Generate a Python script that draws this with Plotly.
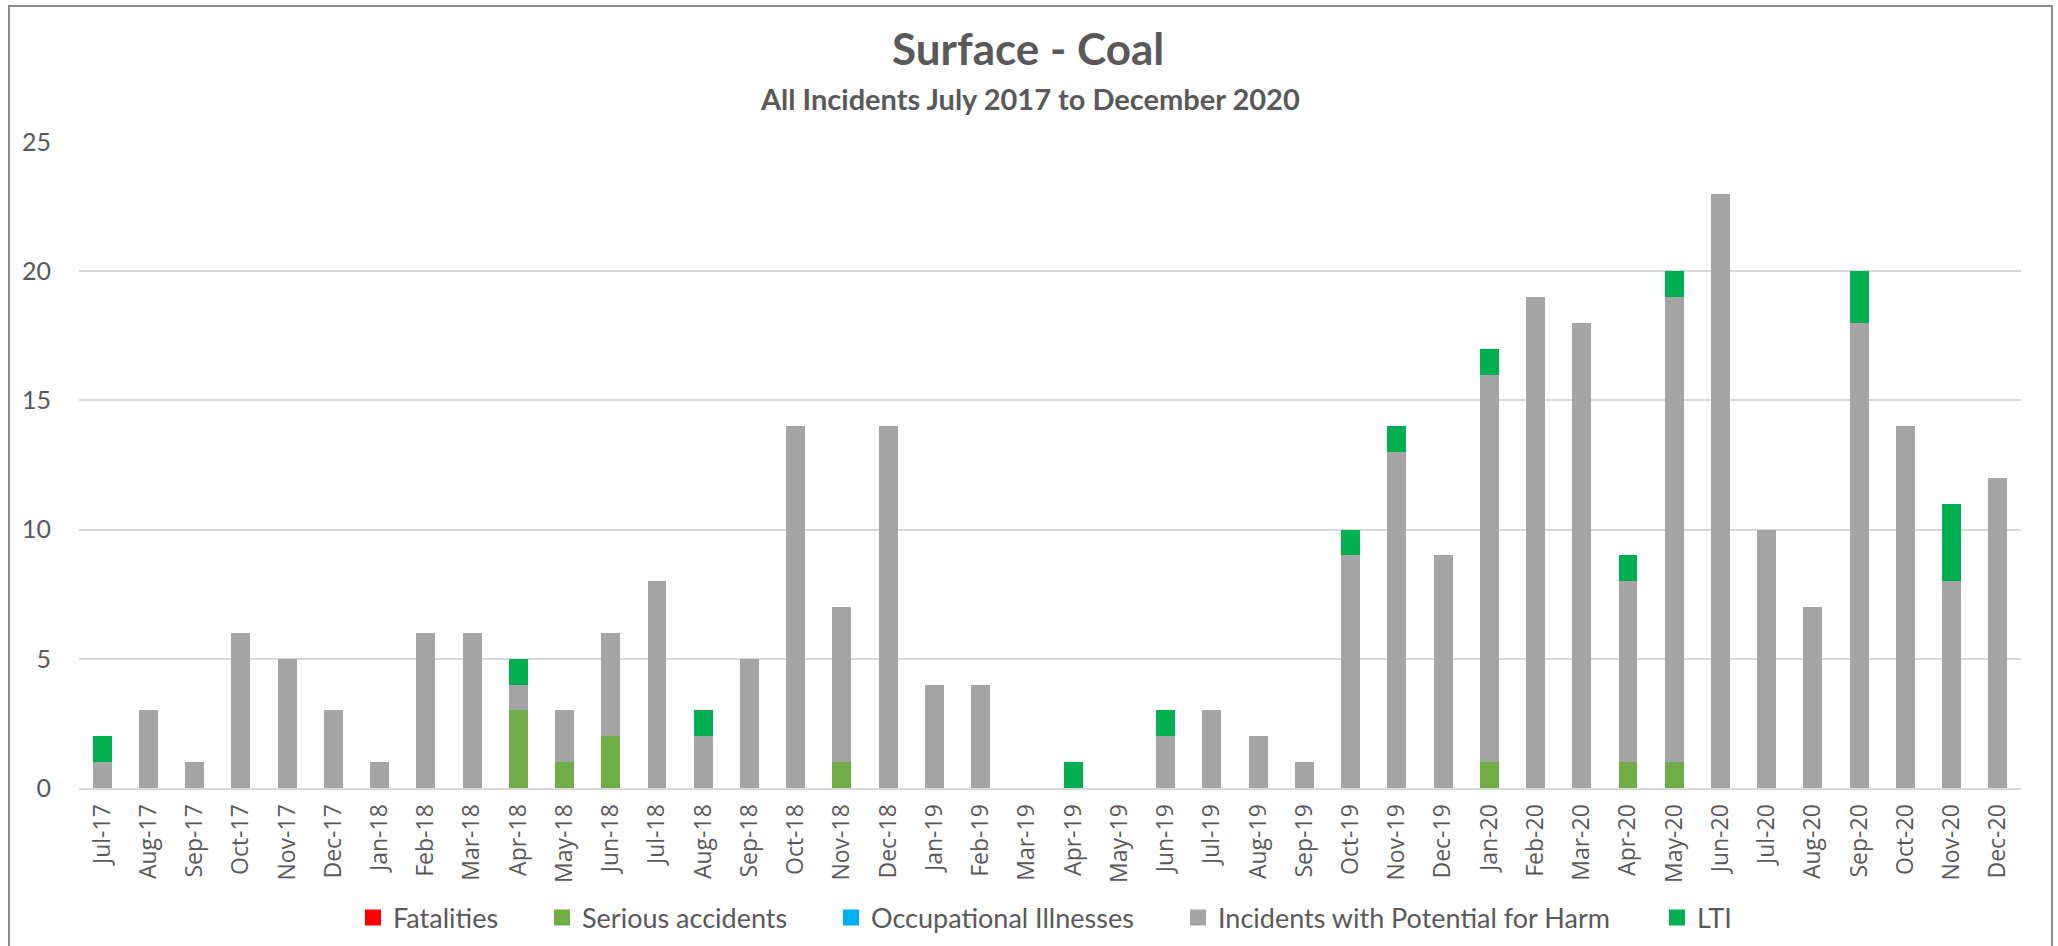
import plotly.graph_objects as go

months = ["Jul-17", "Aug-17", "Sep-17", "Oct-17", "Nov-17", "Dec-17",
          "Jan-18", "Feb-18", "Mar-18", "Apr-18", "May-18", "Jun-18",
          "Jul-18", "Aug-18", "Sep-18", "Oct-18", "Nov-18", "Dec-18",
          "Jan-19", "Feb-19", "Mar-19", "Apr-19", "May-19", "Jun-19",
          "Jul-19", "Aug-19", "Sep-19", "Oct-19", "Nov-19", "Dec-19",
          "Jan-20", "Feb-20", "Mar-20", "Apr-20", "May-20", "Jun-20",
          "Jul-20", "Aug-20", "Sep-20", "Oct-20", "Nov-20", "Dec-20"]

fatalities = [0] * 42
serious_accidents = [0, 0, 0, 0, 0, 0,
                     0, 0, 0, 3, 1, 2,
                     0, 0, 0, 0, 1, 0,
                     0, 0, 0, 0, 0, 0,
                     0, 0, 0, 0, 0, 0,
                     1, 0, 0, 1, 1, 0,
                     0, 0, 0, 0, 0, 0]
occupational_illnesses = [0] * 42
potential_for_harm = [1, 3, 1, 6, 5, 3,
                      1, 6, 6, 1, 2, 4,
                      8, 2, 5, 14, 6, 14,
                      4, 4, 0, 0, 0, 2,
                      3, 2, 1, 9, 13, 9,
                      15, 19, 18, 7, 18, 23,
                      10, 7, 18, 14, 8, 12]
lti = [1, 0, 0, 0, 0, 0,
       0, 0, 0, 1, 0, 0,
       0, 1, 0, 0, 0, 0,
       0, 0, 0, 1, 0, 1,
       0, 0, 0, 1, 1, 0,
       1, 0, 0, 1, 1, 0,
       0, 0, 2, 0, 3, 0]

series_names = ["Fatalities", "Serious accidents", "Occupational Illnesses",
                "Incidents with Potential for Harm", "LTI"]
series_values = [fatalities, serious_accidents, occupational_illnesses,
                 potential_for_harm, lti]
series_colors = ["#FF0000", "#70AD47", "#00B0F0", "#A5A5A5", "#00B050"]

W, H = 2058, 946
L, R, T, B = 79, 37, 142, 158
PW = W - L - R
PH = H - T - B

def px_x(x):
    return (x - L) / PW

def px_y(y):
    return (H - B - y) / PH

legend_left = [365, 554, 843, 1190, 1669]
legend_ids = ["legend", "legend2", "legend3", "legend4", "legend5"]
TXT = "#595959"

fig = go.Figure()
for name, vals, col in zip(series_names, series_values, series_colors):
    fig.add_trace(go.Bar(x=months, y=vals, name=name, marker_color=col,
                         marker_line_width=0, showlegend=False))

# legend entries (square swatches)
for name, col, lid in zip(series_names, series_colors, legend_ids):
    fig.add_trace(go.Scatter(x=[None], y=[None], mode="markers", name=name,
                             marker=dict(symbol="square", size=16, color=col),
                             legend=lid, showlegend=True))

layout_legends = {}
for lid, lx in zip(legend_ids, legend_left):
    layout_legends[lid] = dict(
        x=px_x(lx - 12), xanchor="left", y=px_y(918), yanchor="middle",
        orientation="h", bgcolor="rgba(0,0,0,0)", borderwidth=0,
        itemsizing="trace",
        font=dict(family="Lato", size=27, color=TXT),
        itemclick=False, itemdoubleclick=False)

fig.update_layout(
    width=W, height=H,
    margin=dict(l=L, r=R, t=T, b=B, pad=0, autoexpand=False),
    paper_bgcolor="white", plot_bgcolor="white",
    barmode="stack", bargap=0.59,
    showlegend=True,
    font=dict(family="Lato", color=TXT),
    **layout_legends,
    xaxis=dict(type="category", tickangle=-90, automargin=False,
               tickfont=dict(family="Open Sans", size=23, color=TXT),
               showline=True, linecolor="#D9D9D9", linewidth=2,
               ticks="", showgrid=False, ticklabelstandoff=5),
    yaxis=dict(range=[0, 25], dtick=5, tick0=0, automargin=False,
               showgrid=True, gridcolor="#D9D9D9", gridwidth=1.5,
               zeroline=False, showline=False, ticks="",
               tickfont=dict(family="Lato", size=25, color=TXT),
               ticklabelstandoff=27),
    annotations=[
        dict(text="<b>Surface - Coal</b>", x=px_x(1028), y=px_y(48),
             xref="paper", yref="paper", xanchor="center", yanchor="middle",
             showarrow=False, font=dict(family="Lato", size=44, color=TXT)),
        dict(text="<b>All Incidents July 2017 to December 2020</b>",
             x=px_x(1030), y=px_y(98),
             xref="paper", yref="paper", xanchor="center", yanchor="middle",
             showarrow=False, font=dict(family="Lato", size=29, color=TXT)),
    ],
    shapes=[dict(type="rect", xref="paper", yref="paper",
                 x0=px_x(9), x1=px_x(2052), y0=px_y(H + 20), y1=px_y(6),
                 line=dict(color="#8C8C8C", width=2), layer="below")],
)

fig.write_html("out.html",
               config={"displayModeBar": False},
               post_script="document.body.style.margin='0';"
                           "document.body.style.overflow='hidden';")
